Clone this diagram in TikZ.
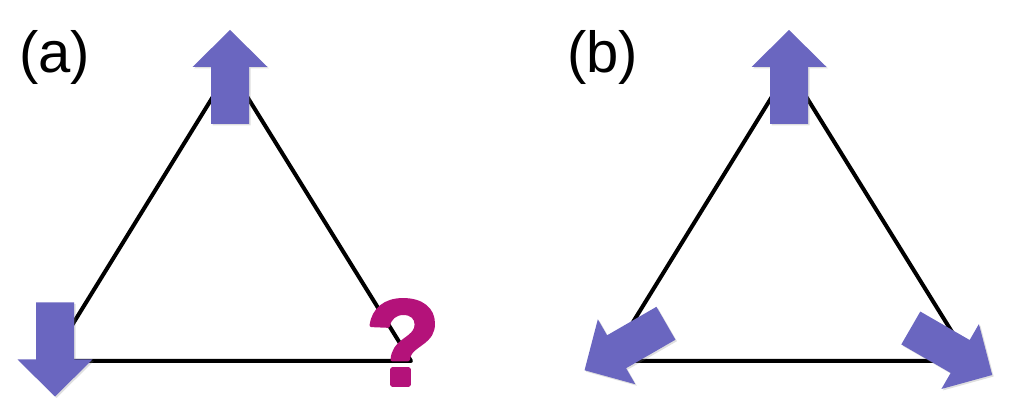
\documentclass[tikz,border=0pt]{standalone}
\usepackage{fontspec}
\setmainfont{Liberation Sans}
\usetikzlibrary{shadows}
\definecolor{arrowpurple}{RGB}{106,102,192}
\definecolor{qmagenta}{RGB}{180,18,122}
\newcommand{\heavyq}{\special{pdf:literal 2 Tr 3.5 w 1 j 0.706 0.071 0.478 RG}?\special{pdf:literal 0 Tr}}
\tikzset{
  x=1pt, y=1pt,
  edge/.style={line width=4pt, line cap=round, line join=round},
  bigarrow/.pic={
    \path[fill=arrowpurple, drop shadow={opacity=0.25, shadow xshift=1.5pt, shadow yshift=-1.5pt}]
      (-47,-19) -- (10,-19) -- (10,-37.5) -- (47,0) -- (10,37.5) -- (10,19) -- (-47,19) -- cycle;
  },
  qmark/.style={anchor=base, inner sep=0pt, text=qmagenta, font=\fontsize{122}{122}\selectfont\bfseries},
  panellabel/.style={anchor=base, inner sep=0pt, font=\fontsize{58}{58}\selectfont},
}
\begin{document}
\begin{tikzpicture}
\useasboundingbox (0,0) rectangle (1011,411);
% panel (a)
\coordinate (aT) at (230,342);
\coordinate (aL) at (50,50);
\coordinate (aR) at (411,50);
\draw[edge] (aT) -- (aL) -- (aR) -- cycle;
\pic[rotate=90] at (230,334) {bigarrow};
\pic[rotate=-90] at (55,61.5) {bigarrow};
\node[qmark] (q) at (403,26) {\heavyq};
\node[panellabel] (la) at (54.5,338) {(a)};
% panel (b)
\coordinate (bT) at (789,342);
\coordinate (bL) at (609,50);
\coordinate (bR) at (970,50);
\draw[edge] (bT) -- (bL) -- (bR) -- cycle;
\pic[rotate=90] at (789,334) {bigarrow};
\pic[rotate=210] at (625.25,64.25) {bigarrow};
\pic[rotate=-30] at (951.5,59.5) {bigarrow};
\node[panellabel] (lb) at (602.5,338) {(b)};
\end{tikzpicture}
\end{document}
